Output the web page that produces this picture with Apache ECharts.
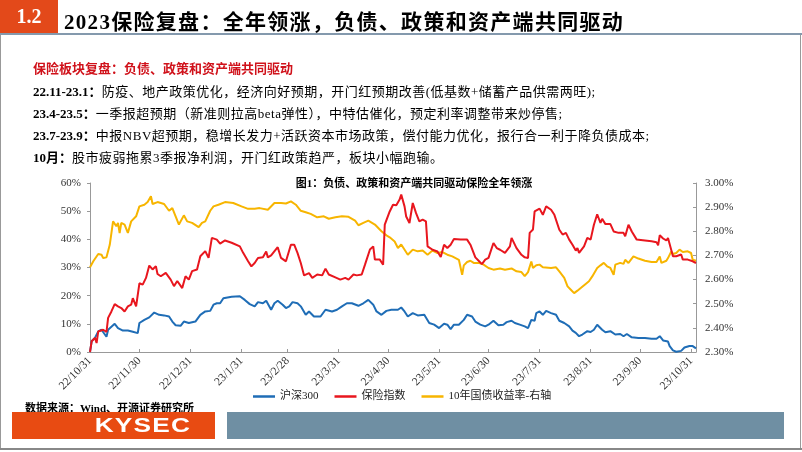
<!DOCTYPE html>
<html>
<head>
<meta charset="utf-8">
<script src="https://cdn.jsdelivr.net/npm/echarts@6/dist/echarts.min.js"></script>
<style>
  html, body { margin: 0; padding: 0; background: #fff; }
  #page { position: relative; width: 802px; height: 452px; overflow: hidden; }
  #chart { position: absolute; left: 0; top: 0; width: 802px; height: 452px; }
  .abs { position: absolute; white-space: nowrap; font-family: "Liberation Serif", "Noto Sans CJK SC", serif; }
  .body { font-size: 13px; color: #000; line-height: 16px; letter-spacing: 0.5px; }
  .body b { font-weight: 700; letter-spacing: 0; }
</style>
</head>
<body>
<div id="page">
  <div id="chart"></div>
  <!-- 页眉 -->
  <div class="abs" style="left:0;top:0;width:58px;height:34px;background:#e3491a;"></div>
  <div class="abs" style="left:0;top:5px;width:58px;text-align:center;color:#fff;font-size:20px;font-weight:700;">1.2</div>
  <div class="abs" style="left:64px;top:5px;font-size:21px;font-weight:700;color:#000;letter-spacing:1.3px;">2023保险复盘：全年领涨，负债、政策和资产端共同驱动</div>
  <div class="abs" style="left:0;top:33px;width:802px;height:2px;background:#8499ad;"></div>
  <div class="abs" style="left:0;top:35px;width:1px;height:414px;background:#999;"></div>
  <div class="abs" style="left:800px;top:35px;width:1px;height:414px;background:#999;"></div>
  <div class="abs" style="left:0;top:448px;width:802px;height:2px;background:#888;"></div>
  <!-- 正文 -->
  <div class="abs" style="left:33px;top:58px;font-size:13px;font-weight:700;color:#d0121b;">保险板块复盘：负债、政策和资产端共同驱动</div>
  <div class="abs body" style="left:33px;top:84px;"><b>22.11-23.1：</b>防疫、地产政策优化，经济向好预期，开门红预期改善(低基数+储蓄产品供需两旺);</div>
  <div class="abs body" style="left:33px;top:106px;"><b>23.4-23.5：</b>一季报超预期（新准则拉高beta弹性），中特估催化，预定利率调整带来炒停售;</div>
  <div class="abs body" style="left:33px;top:128px;"><b>23.7-23.9：</b>中报NBV超预期，稳增长发力+活跃资本市场政策，偿付能力优化，报行合一利于降负债成本;</div>
  <div class="abs body" style="left:33px;top:150px;"><b>10月：</b>股市疲弱拖累3季报净利润，开门红政策趋严，板块小幅跑输。</div>
  <!-- 页脚 -->
  <div class="abs" style="left:25px;top:399px;font-size:11px;font-weight:700;color:#000;">数据来源：Wind、开源证券研究所</div>
  <div class="abs" style="left:12px;top:412px;width:203px;height:27px;background:#e84b12;"></div>
  <div class="abs" style="left:93px;top:413px;width:100px;text-align:center;color:#fff;font-family:'Liberation Sans',Arial,sans-serif;font-size:21px;font-weight:700;letter-spacing:1px;transform:scaleX(1.25);">KYSEC</div>
  <div class="abs" style="left:227px;top:412px;width:557px;height:27px;background:#6f8fa3;"></div>
</div>
<script>
// x 轴: 22/10/31 起的自然日序号
const startDate = Date.UTC(2022, 9, 31);
const dayCount = 369;

// 沪深300 涨跌幅 (%)
const hs300 = [[0,0],[1,3.8],[3,5.0],[5,7.3],[7,7.9],[10,5.4],[11,7.9],[15,10.0],[17,8.5],[20,7.6],[23,7.6],[26,7.2],[29,6.7],[30,10.3],[33,11.4],[36,12.3],[39,14.0],[42,13.2],[45,13.0],[48,12.6],[50,10.8],[52,9.5],[55,9.3],[57,10.8],[60,10.3],[64,10.8],[67,13.2],[70,14.4],[73,14.6],[75,16.8],[77,17.3],[79,17.3],[81,19.1],[86,19.6],[91,19.8],[94,18.5],[97,17.0],[100,16.2],[102,17.7],[105,17.3],[107,18.2],[110,15.0],[112,17.3],[114,18.2],[117,16.8],[119,15.6],[121,16.2],[123,17.7],[126,17.3],[128,16.2],[131,13.2],[133,14.4],[136,12.6],[140,12.6],[143,15.0],[147,14.4],[150,15.0],[153,16.2],[156,17.3],[159,17.3],[163,16.4],[166,17.3],[169,18.5],[172,16.8],[174,14.4],[177,13.2],[180,14.6],[183,15.0],[187,15.0],[189,15.8],[191,14.4],[193,12.6],[196,13.8],[199,13.0],[203,13.2],[206,10.3],[209,9.7],[212,8.5],[215,10.0],[217,9.7],[219,8.1],[221,9.7],[224,9.7],[227,11.4],[229,13.2],[232,12.6],[234,10.8],[237,9.7],[240,9.1],[242,9.7],[245,11.1],[248,9.5],[251,9.7],[253,10.6],[256,11.1],[258,10.3],[261,9.7],[264,9.1],[266,8.5],[268,11.4],[270,11.1],[271,13.8],[273,14.4],[275,13.2],[277,14.6],[280,13.8],[283,13.2],[285,11.1],[288,10.3],[291,9.1],[293,7.6],[295,6.8],[297,5.6],[299,6.2],[302,7.4],[304,7.1],[306,7.9],[308,9.7],[311,7.9],[313,7.0],[316,7.4],[319,6.2],[322,6.4],[324,5.6],[326,6.4],[329,5.2],[333,5.0],[337,5.0],[341,4.7],[344,4.7],[346,5.6],[348,4.1],[351,3.7],[352,2.1],[354,0.6],[356,0.1],[359,0.4],[361,1.6],[364,2.1],[366,2.1],[368,1.3]];

// 保险指数 涨跌幅 (%)
const insurance = [[0,0],[1,3.8],[3,5.0],[4,3.2],[5,7.3],[8,7.9],[10,7.1],[11,12.1],[13,14.4],[15,17.0],[17,16.2],[19,15.6],[21,14.4],[23,16.2],[25,16.8],[26,19.1],[28,16.2],[30,24.4],[32,23.9],[34,26.3],[36,30.7],[38,29.3],[40,30.5],[41,27.7],[43,26.9],[46,28.1],[49,25.7],[51,23.4],[53,25.2],[56,22.7],[58,26.9],[60,25.7],[62,28.7],[65,29.3],[67,34.0],[70,35.8],[72,33.4],[74,40.5],[77,39.9],[79,38.5],[82,39.6],[86,38.8],[91,37.5],[93,35.2],[96,32.2],[98,30.4],[100,31.6],[102,33.4],[105,33.6],[107,35.7],[108,33.6],[110,34.3],[114,37.2],[116,33.4],[119,32.2],[120,32.2],[122,38.1],[124,38.1],[126,35.2],[128,31.6],[130,27.2],[133,28.0],[135,26.3],[136,25.7],[138,27.5],[141,27.2],[143,29.6],[145,27.5],[149,26.5],[152,25.7],[155,26.3],[157,25.7],[160,27.5],[162,27.2],[165,27.5],[167,31.0],[170,36.4],[172,37.5],[173,32.8],[176,32.8],[178,31.0],[179,45.2],[182,49.9],[184,52.3],[186,52.1],[188,54.1],[189,55.9],[191,51.7],[192,48.1],[194,45.8],[196,52.9],[198,49.3],[200,46.4],[202,47.0],[204,46.4],[205,37.5],[208,36.3],[211,35.7],[213,33.7],[215,38.1],[217,36.9],[219,38.1],[221,40.1],[225,39.9],[229,39.9],[231,38.1],[234,33.6],[236,32.4],[238,31.2],[240,32.8],[242,33.4],[245,38.7],[247,36.9],[249,36.3],[252,35.2],[255,37.5],[256,40.5],[259,36.9],[262,34.5],[264,33.6],[266,33.4],[267,42.3],[269,43.5],[270,49.9],[273,50.9],[275,48.7],[277,51.7],[280,50.5],[282,48.7],[283,48.5],[285,43.4],[287,41.7],[289,42.3],[291,39.9],[293,38.1],[295,36.0],[296,36.9],[297,35.2],[300,37.5],[302,40.5],[304,39.9],[306,45.2],[308,48.9],[310,45.8],[311,47.3],[313,45.4],[316,45.4],[318,42.8],[321,42.3],[324,42.3],[325,41.1],[327,45.2],[329,42.8],[332,39.9],[337,39.6],[341,39.3],[344,39.0],[345,37.9],[346,41.5],[348,40.3],[350,39.6],[351,40.5],[352,39.9],[354,34.0],[356,34.0],[359,34.6],[360,32.8],[363,32.8],[366,32.2],[368,31.6]];

// 10年国债收益率 (%), 右轴
const bond10y = [[0,2.651],[2,2.676],[3,2.683],[5,2.706],[7,2.703],[8,2.689],[10,2.692],[12,2.744],[14,2.841],[16,2.821],[17,2.835],[18,2.793],[19,2.835],[21,2.828],[23,2.793],[25,2.841],[28,2.862],[30,2.903],[33,2.910],[35,2.921],[37,2.945],[38,2.913],[41,2.921],[45,2.913],[48,2.885],[50,2.896],[52,2.862],[54,2.828],[57,2.866],[59,2.841],[62,2.835],[66,2.817],[68,2.835],[70,2.841],[73,2.885],[75,2.903],[78,2.910],[82,2.921],[87,2.917],[92,2.903],[96,2.893],[100,2.893],[103,2.896],[108,2.889],[112,2.917],[116,2.917],[119,2.915],[122,2.924],[125,2.910],[128,2.885],[131,2.879],[134,2.872],[138,2.858],[142,2.862],[145,2.852],[149,2.858],[153,2.862],[157,2.860],[161,2.844],[163,2.825],[166,2.835],[169,2.844],[173,2.828],[177,2.800],[180,2.783],[182,2.775],[185,2.758],[187,2.731],[189,2.745],[190,2.738],[193,2.703],[196,2.724],[199,2.717],[202,2.720],[205,2.703],[208,2.720],[211,2.710],[214,2.714],[217,2.703],[220,2.696],[224,2.682],[226,2.620],[227,2.659],[229,2.673],[231,2.678],[233,2.669],[236,2.669],[239,2.662],[242,2.648],[245,2.641],[249,2.646],[252,2.641],[256,2.646],[259,2.634],[262,2.631],[264,2.614],[266,2.631],[268,2.675],[269,2.648],[271,2.659],[273,2.662],[275,2.651],[280,2.648],[283,2.651],[285,2.634],[288,2.607],[290,2.572],[292,2.558],[294,2.544],[296,2.554],[298,2.565],[301,2.582],[303,2.593],[305,2.613],[308,2.648],[310,2.659],[312,2.669],[314,2.655],[316,2.648],[318,2.620],[319,2.662],[322,2.669],[324,2.665],[325,2.682],[327,2.669],[330,2.696],[333,2.687],[337,2.678],[341,2.673],[344,2.673],[346,2.696],[347,2.669],[350,2.678],[351,2.689],[353,2.717],[354,2.706],[356,2.710],[358,2.724],[360,2.714],[363,2.717],[365,2.710],[366,2.682],[368,2.678]];

const seriesNames = ['沪深300', '保险指数', '10年国债收益率-右轴'];
const seriesColors = ['#1f6db6', '#e8161e', '#f7b500'];
const chartTitle = '图1：负债、政策和资产端共同驱动保险全年领涨';

// 自然日类目
const categories = [];
const isMonthEnd = [];
for (let i = 0; i < dayCount; i++) {
  const d = new Date(startDate + i * 86400000);
  const next = new Date(startDate + (i + 1) * 86400000);
  categories.push(String(d.getUTCFullYear()).slice(2) + '/' + (d.getUTCMonth() + 1) + '/' + d.getUTCDate());
  isMonthEnd.push(next.getUTCDate() === 1 && i <= 365);
}

const serif = '"Liberation Serif", "Noto Sans CJK SC", serif';
const chart = echarts.init(document.getElementById('chart'), null, {renderer: 'canvas'});

chart.setOption({
  animation: false,
  backgroundColor: 'transparent',
  grid: {left: 90, right: 106, top: 183, bottom: 100, containLabel: false},
  graphic: [{
    type: 'text',
    x: 414,
    y: 184,
    style: {
      text: chartTitle,
      fontFamily: serif,
      fontSize: 11,
      fontWeight: 'bold',
      fill: '#000',
      align: 'center',
      verticalAlign: 'middle'
    }
  }],
  legend: {
    left: 248,
    top: 386,
    icon: 'rect',
    itemWidth: 22,
    itemHeight: 2.5,
    itemGap: 16,
    textStyle: {fontFamily: serif, fontSize: 11, color: '#222'},
    data: seriesNames
  },
  xAxis: {
    type: 'category',
    data: categories,
    boundaryGap: false,
    axisLine: {lineStyle: {color: '#999', width: 1}},
    axisTick: {
      inside: true,
      length: 3,
      lineStyle: {color: '#999'},
      interval: (i) => isMonthEnd[i]
    },
    axisLabel: {
      interval: (i) => isMonthEnd[i],
      rotate: 45,
      margin: 7,
      fontFamily: serif,
      fontSize: 11.5,
      color: '#333'
    },
    splitLine: {show: false}
  },
  yAxis: [{
    type: 'value',
    min: 0,
    max: 60,
    interval: 10,
    axisLine: {show: true, lineStyle: {color: '#999'}},
    axisTick: {show: true, length: 3, lineStyle: {color: '#999'}},
    axisLabel: {formatter: '{value}%', margin: 9, fontFamily: serif, fontSize: 11, color: '#333'},
    splitLine: {show: false}
  }, {
    type: 'value',
    min: 2.3,
    max: 3.0,
    interval: 0.1,
    axisLine: {show: true, lineStyle: {color: '#999'}},
    axisTick: {show: true, inside: true, length: 3, lineStyle: {color: '#999'}},
    axisLabel: {formatter: (v) => v.toFixed(2) + '%', margin: 9, fontFamily: serif, fontSize: 11, color: '#333'},
    splitLine: {show: false}
  }],
  series: [{
    name: seriesNames[0],
    type: 'line',
    data: hs300,
    yAxisIndex: 0,
    showSymbol: false,
    color: seriesColors[0],
    lineStyle: {width: 2}
  }, {
    name: seriesNames[1],
    type: 'line',
    data: insurance,
    yAxisIndex: 0,
    showSymbol: false,
    color: seriesColors[1],
    lineStyle: {width: 2}
  }, {
    name: seriesNames[2],
    type: 'line',
    data: bond10y,
    yAxisIndex: 1,
    showSymbol: false,
    color: seriesColors[2],
    lineStyle: {width: 2},
    z: 1
  }]
});
</script>
</body>
</html>
